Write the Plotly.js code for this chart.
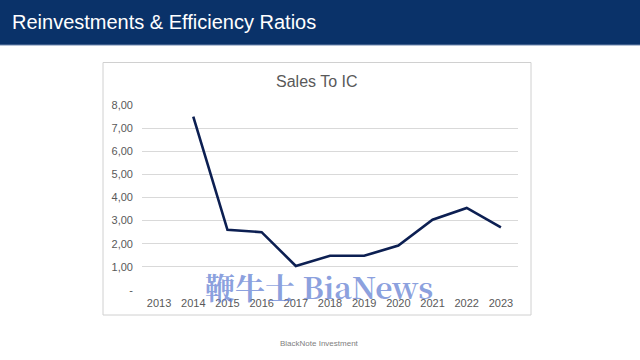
<!DOCTYPE html>
<html>
<head>
<meta charset="utf-8">
<script src="https://cdn.plot.ly/plotly-3.0.1.min.js"></script>
<style>
html,body{margin:0;padding:0;background:#fff;}
#chart{width:640px;height:360px;}
</style>
</head>
<body>
<div id="chart"></div>
<script>
const years = ['2013','2014','2015','2016','2017','2018','2019','2020','2021','2022','2023'];
const salesToIC = [null, 7.50, 2.60, 2.50, 1.04, 1.48, 1.48, 1.92, 3.04, 3.55, 2.71];
const yTickVals = [0, 1, 2, 3, 4, 5, 6, 7, 8];
const yTickText = ['-', '1,00', '2,00', '3,00', '4,00', '5,00', '6,00', '7,00', '8,00'];

// plot area in pixels
const L = 142, R = 518, T = 105, B = 290;
const px = x => (x - L) / (R - L);
const py = y => (B - y) / (B - T);

const trace = {
  x: years, y: salesToIC, type: 'scatter', mode: 'lines',
  line: {color: '#0c1f52', width: 2.6},
  connectgaps: false, hoverinfo: 'skip'
};

const layout = {
  width: 640, height: 360,
  margin: {l: L, r: 640 - R, t: T, b: 360 - B, pad: 0},
  paper_bgcolor: '#ffffff', plot_bgcolor: '#ffffff',
  showlegend: false,
  font: {family: 'Liberation Sans, Arial, sans-serif', color: '#595959', size: 11},
  xaxis: {
    type: 'category', range: [-0.5, 10.5], showgrid: false, zeroline: false,
    showline: false, ticks: '', tickfont: {size: 11, color: '#595959'}, ticklen: 0,
    ticklabelstandoff: 5, fixedrange: true
  },
  yaxis: {
    range: [0, 8], tickvals: yTickVals, ticktext: yTickText,
    showgrid: true, gridcolor: '#d9d9d9', gridwidth: 1, zeroline: false,
    showline: false, ticks: '', tickfont: {size: 11, color: '#595959'},
    ticklabelstandoff: 8, fixedrange: true
  },
  shapes: [
    {type: 'rect', xref: 'paper', yref: 'paper', x0: px(0), x1: px(640), y0: py(45), y1: py(0),
     fillcolor: '#0a3269', line: {width: 0}, layer: 'below'},
    {type: 'line', xref: 'paper', yref: 'paper', x0: px(0), x1: px(640), y0: py(45), y1: py(45),
     line: {color: '#6d85ad', width: 1}},
    {type: 'rect', xref: 'paper', yref: 'paper', x0: px(103), x1: px(531), y0: py(315), y1: py(62.5),
     fillcolor: 'rgba(0,0,0,0)', line: {color: '#d0d0d0', width: 1}, layer: 'below'}
  ],
  annotations: [
    {text: 'Reinvestments & Efficiency Ratios', xref: 'paper', yref: 'paper',
     x: px(10), y: py(22), xanchor: 'left', yanchor: 'middle', showarrow: false,
     font: {family: 'Liberation Sans, Arial, sans-serif', size: 20, color: '#ffffff'}},
    {text: 'Sales To IC', xref: 'paper', yref: 'paper',
     x: px(317), y: py(82), xanchor: 'center', yanchor: 'middle', showarrow: false,
     font: {family: 'Liberation Sans, Arial, sans-serif', size: 16, color: '#595959'}},
    {text: '鞭牛士 BiaNews', xref: 'paper', yref: 'paper',
     x: px(319), y: py(286), xanchor: 'center', yanchor: 'middle', showarrow: false,
     font: {family: 'Noto Serif CJK SC, Liberation Serif, DejaVu Serif, serif', size: 30, weight: 'bold', color: 'rgba(95,125,210,0.72)'}},
    {text: 'BlackNote Investment', xref: 'paper', yref: 'paper',
     x: px(319), y: py(343), xanchor: 'center', yanchor: 'middle', showarrow: false,
     font: {family: 'Liberation Sans, Arial, sans-serif', size: 8, color: '#808080'}}
  ]
};

Plotly.newPlot('chart', [trace], layout, {displayModeBar: false, staticPlot: true});
</script>
</body>
</html>
